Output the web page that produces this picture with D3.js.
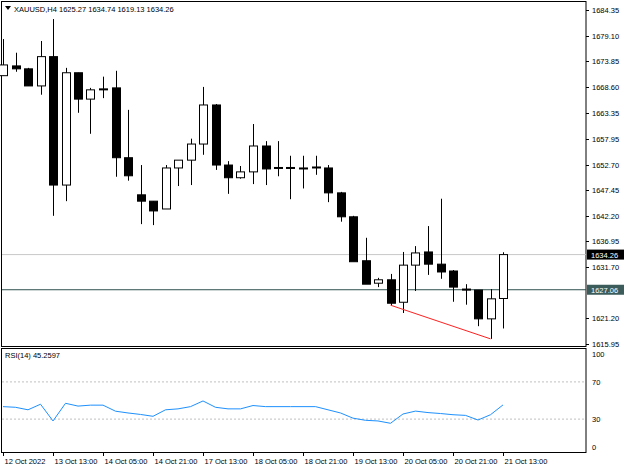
<!DOCTYPE html>
<html><head><meta charset="utf-8">
<script src="https://cdn.jsdelivr.net/npm/d3@7"></script>
<style>body{margin:0;background:#fff}text{font-family:"Liberation Sans",sans-serif;font-size:7.5px}</style>
</head><body><div id="chart"></div>
<script>
// OHLC per 4h bar
const opens  = [1670.9,1672.9,1672.3,1668.8,1674.8,1648.5,1671.5,1666.1,1668.0,1668.4,1654.1,1646.5,1645.2,1643.6,1652.0,1653.6,1656.9,1664.9,1652.6,1650.0,1651.2,1656.5,1652.0,1652.1,1651.9,1652.0,1652.0,1646.9,1642.0,1633.0,1628.4,1629.1,1624.5,1632.1,1634.8,1632.3,1630.9,1627.2,1627.0,1621.1,1625.27];
const highs  = [1678.4,1675.6,1672.5,1678.0,1682.5,1672.5,1671.5,1668.4,1670.7,1671.9,1663.9,1652.6,1645.2,1652.6,1652.4,1658.0,1668.6,1665.1,1653.4,1652.4,1661.0,1657.5,1657.5,1654.5,1654.5,1654.5,1652.6,1647.1,1642.2,1637.7,1629.5,1630.3,1634.8,1636.0,1640.1,1645.7,1631.1,1628.2,1627.0,1627.2,1634.74];
const lows   = [1670.9,1671.7,1668.8,1667.0,1642.2,1645.2,1663.3,1659.0,1666.3,1650.2,1649.4,1640.5,1640.3,1643.6,1648.3,1648.5,1654.7,1651.6,1646.7,1649.8,1648.7,1648.5,1650.3,1645.6,1647.8,1650.6,1645.0,1641.0,1637.5,1630.1,1627.6,1623.9,1622.3,1626.8,1630.1,1629.3,1624.6,1624.0,1619.6,1617.0,1619.13];
const closes = [1673.1,1672.3,1668.8,1674.8,1648.5,1671.5,1666.1,1668.0,1668.2,1654.1,1650.4,1645.2,1643.2,1652.0,1653.6,1656.9,1664.9,1652.6,1650.0,1651.2,1656.5,1651.8,1652.1,1651.9,1652.0,1652.2,1646.9,1642.0,1632.8,1628.2,1629.1,1624.3,1632.1,1634.6,1632.3,1630.7,1627.6,1627.0,1621.1,1625.2,1634.26];
const rsi = [43.4,42.7,40,46,28,47,44,45,45,38.5,36.6,35,33,40,41,43.4,49.5,42.7,41,41,44.6,43.4,43.4,43.4,43.4,43.4,40,36.6,31,28.7,28,25.5,35.5,38.6,37,36,34.7,34,29,34.7,45.26];
const priceTicks = [1684.35,1679.10,1673.85,1668.60,1663.35,1657.95,1652.70,1647.45,1642.20,1636.95,1631.70,1621.20,1615.95];
const timeLabels = ["12 Oct 2022","13 Oct 13:00","14 Oct 05:00","14 Oct 21:00","17 Oct 13:00","18 Oct 05:00","18 Oct 21:00","19 Oct 13:00","20 Oct 05:00","20 Oct 21:00","21 Oct 13:00"];
const rsiTicks = [100,70,30,0];
const trendIdx = [31,39];
const trendVals = [1623.9,1617.0];

const W = 625, H = 469, axisX = 586;
const svg = d3.select("#chart").append("svg").attr("width", W).attr("height", H);

const x = d3.scaleLinear().domain([0, 40]).range([3, 503]);
const y = d3.scaleLinear().domain([1615.95, 1684.35]).range([344, 10]);
const yr = d3.scaleLinear().domain([0, 100]).range([447, 354]);

// panel frames
svg.append("rect").attr("x",1.5).attr("y",1.5).attr("width",axisX-1.5).attr("height",345).attr("fill","none").attr("stroke","#000");
svg.append("rect").attr("x",1.5).attr("y",348.5).attr("width",axisX-1.5).attr("height",104).attr("fill","none").attr("stroke","#000");

// price axis
svg.append("g").selectAll("g").data(priceTicks).join("g").each(function(d){
  const g = d3.select(this);
  g.append("line").attr("x1",axisX).attr("x2",axisX+3).attr("y1",Math.round(y(d))+.5).attr("y2",Math.round(y(d))+.5).attr("stroke","#000");
  g.append("text").attr("x",axisX+6).attr("y",y(d)+3).text(d.toFixed(2));
});

// horizontal lines
svg.append("line").attr("x1",2).attr("x2",axisX).attr("y1",y(1634.26)).attr("y2",y(1634.26)).attr("stroke","#c8c8c8");
svg.append("line").attr("x1",2).attr("x2",axisX).attr("y1",y(1627.06)).attr("y2",y(1627.06)).attr("stroke","#2f4f4f");

// candles
const idx = d3.range(opens.length);
const g = svg.append("g");
g.selectAll("line.w").data(idx).join("line")
  .attr("x1", i => Math.round(x(i))+.5).attr("x2", i => Math.round(x(i))+.5)
  .attr("y1", i => y(highs[i])).attr("y2", i => y(lows[i])).attr("stroke","#000");
g.selectAll("rect").data(idx).join("rect")
  .attr("x", i => Math.round(x(i))-3.5).attr("width", 8)
  .attr("y", i => y(Math.max(opens[i], closes[i])))
  .attr("height", i => Math.max(1, Math.abs(y(opens[i]) - y(closes[i]))))
  .attr("fill", i => closes[i] >= opens[i] ? "#fff" : "#000").attr("stroke","#000");

// trend line
svg.append("line").attr("x1",x(trendIdx[0])).attr("x2",x(trendIdx[1]))
  .attr("y1",y(trendVals[0])).attr("y2",y(trendVals[1])).attr("stroke","#ff2020");

// price labels
[[1634.26,"#000"],[1627.06,"#3c5c5c"]].forEach(([v,c]) => {
  svg.append("rect").attr("x",axisX+1).attr("y",y(v)-5).attr("width",37).attr("height",10).attr("fill",c);
  svg.append("text").attr("x",axisX+5).attr("y",y(v)+3).attr("fill","#fff").text(v.toFixed(2));
});

svg.append("path").attr("d","M5,6 L11,6 L8,10 Z").attr("fill","#000");
svg.append("text").attr("x",14).attr("y",12).text("XAUUSD,H4  1625.27 1634.74 1619.13 1634.26");

// RSI
[70,30].forEach(v => svg.append("line").attr("x1",2).attr("x2",axisX).attr("y1",yr(v)).attr("y2",yr(v))
  .attr("stroke","#c0c0c0").attr("stroke-dasharray","2,2"));
svg.append("path").datum(rsi).attr("fill","none").attr("stroke","#1e90ff")
  .attr("d", d3.line().x((d,i) => x(i)).y(d => yr(d)));
svg.append("text").attr("x",5).attr("y",358).text("RSI(14) 45.2597");
rsiTicks.forEach(v => svg.append("text").attr("x",axisX+6).attr("y",yr(v)+3).text(v));

// time axis
timeLabels.forEach((t,k) => {
  const px = Math.round(x(k*4))+.5;
  svg.append("line").attr("x1",px).attr("x2",px).attr("y1",452).attr("y2",456).attr("stroke","#000");
  svg.append("text").attr("x",px+1).attr("y",464).attr("font-size","7px").text(t);
});
</script></body></html>
